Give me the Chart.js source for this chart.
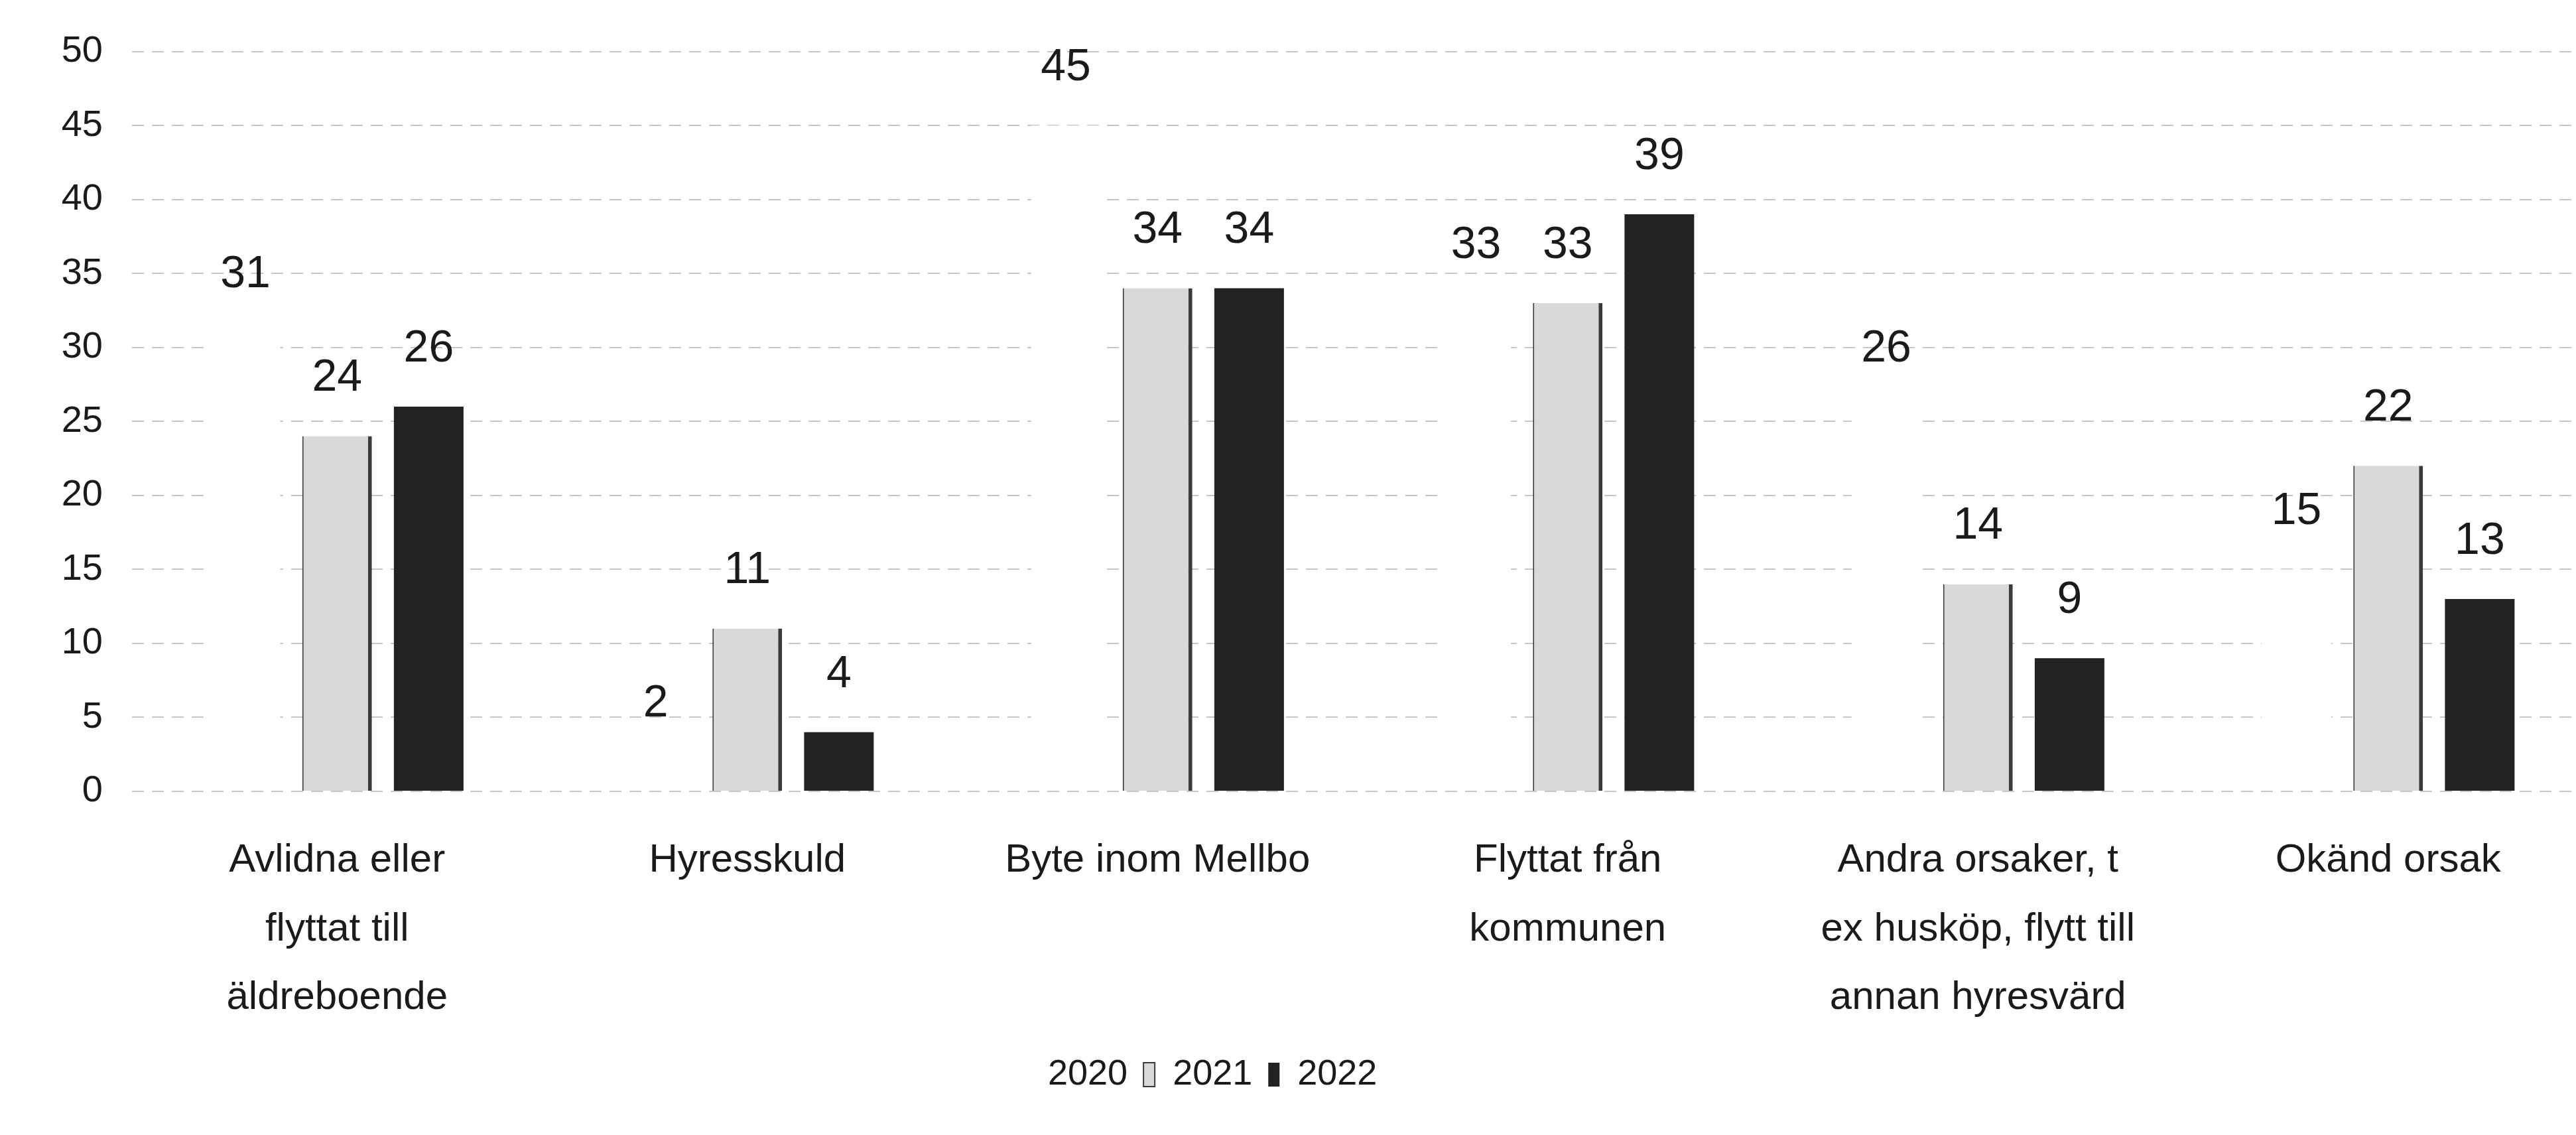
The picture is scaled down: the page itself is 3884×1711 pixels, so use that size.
<!DOCTYPE html>
<html><head><meta charset="utf-8">
<script src="https://cdn.jsdelivr.net/npm/chart.js@4.4.1/dist/chart.umd.min.js"></script>
<style>html,body{margin:0;padding:0;background:#fff;overflow:hidden}#wrap{width:3884px;height:1711px;position:relative;overflow:hidden}</style>
</head><body><div id="wrap"><canvas id="c" width="3910" height="1711"></canvas></div>
<script>
const categories = [
  ["Avlidna eller", "flyttat till", "äldreboende"],
  "Hyresskuld",
  "Byte inom Mellbo",
  ["Flyttat från", "kommunen"],
  ["Andra orsaker, t", "ex husköp, flytt till", "annan hyresvärd"],
  "Okänd orsak"
];
const seriesNames = ["2020", "2021", "2022"];
const values2020 = [31, 2, 45, 33, 26, 15];
const values2021 = [24, 11, 34, 33, 14, 22];
const values2022 = [26, 4, 34, 39, 9, 13];
const yMin = 0, yMax = 50, yStep = 5;

const fam = '"Liberation Sans", Arial, sans-serif';

const valueLabels = {
  id: 'valueLabels',
  afterDatasetsDraw(chart) {
    const ctx = chart.ctx;
    ctx.save();
    ctx.font = '68px "Liberation Sans", sans-serif';
    ctx.fillStyle = '#1a1a1a';
    ctx.textAlign = 'center';
    ctx.textBaseline = 'middle';
    chart.data.datasets.forEach((ds, i) => {
      const meta = chart.getDatasetMeta(i);
      meta.data.forEach((bar, j) => {
        ctx.fillText(String(ds.data[j]), bar.x, bar.y - 87);
      });
    });
    ctx.restore();
  }
};

const legendTargetStart = 1536;
const legendShift = {
  id: 'legendShift',
  afterUpdate(chart) {
    const l = chart.legend;
    if (!l || !l.lineWidths) return;
    const pad = l.options.labels.padding;
    const x = (l.left + pad + l.right - l.lineWidths[0]) / 2;
    const d = legendTargetStart - x;
    l.left += d; l.right += d;
  }
};

new Chart(document.getElementById('c'), {
  type: 'bar',
  data: {
    labels: categories,
    datasets: [
      { label: seriesNames[0], data: values2020, backgroundColor: '#ffffff', borderColor: '#ffffff', borderWidth: 0 },
      { label: seriesNames[1], data: values2021, backgroundColor: '#d9d9d9', borderColor: '#3a3a3a',
        borderWidth: { left: 2, right: 6, top: 0, bottom: 0 }, borderSkipped: false },
      { label: seriesNames[2], data: values2022, backgroundColor: '#222222', borderColor: '#222222', borderWidth: 0 }
    ]
  },
  options: {
    responsive: false,
    animation: false,
    devicePixelRatio: 1,
    categoryPercentage: 0.67,
    barPercentage: 0.76,
    layout: { padding: { top: 52, right: 0, bottom: 54, left: 0 } },
    plugins: {
      tooltip: { enabled: false },
      legend: {
        position: 'bottom',
        labels: {
          font: { family: fam, size: 54 },
          color: '#1a1a1a',
          boxWidth: 17,
          boxHeight: 36,
          padding: 24
        }
      }
    },
    scales: {
      x: {
        afterFit(scale) { scale.height = 376; },
        grid: { display: false },
        border: { display: false },
        ticks: {
          font: { family: fam, size: 60, lineHeight: 1.733 },
          color: '#1a1a1a',
          padding: 44,
          maxRotation: 0,
          minRotation: 0,
          autoSkip: false
        }
      },
      y: {
        min: yMin, max: yMax,
        afterFit(scale) { scale.width = 199; },
        grid: { color: '#c6c6c6', lineWidth: 2, drawTicks: false },
        border: { display: false, dash: [18, 12] },
        ticks: {
          stepSize: yStep,
          font: { family: fam, size: 56 },
          color: '#1a1a1a',
          padding: 44
        }
      }
    }
  },
  plugins: [valueLabels, legendShift]
});
</script>
</body></html>
